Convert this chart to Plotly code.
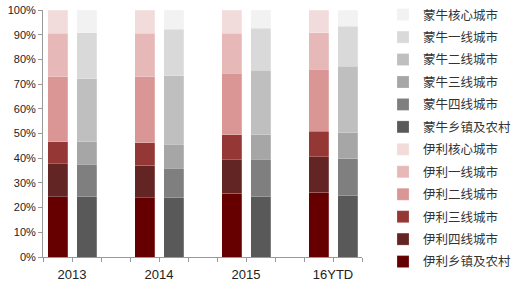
import plotly.graph_objects as go

# categories
years = ["2013", "2014", "2015", "16YTD"]
tiers = ["乡镇及农村", "四线城市", "三线城市", "二线城市", "一线城市", "核心城市"]

# share (%) per tier, bottom -> top, per year
yili = {
    "乡镇及农村": [24.4, 24.0, 25.8, 26.2],
    "四线城市":   [13.3, 13.1, 13.5, 14.4],
    "三线城市":   [9.0, 9.2, 10.1, 10.4],
    "二线城市":   [26.3, 26.7, 25.0, 25.0],
    "一线城市":   [17.6, 17.6, 16.2, 14.8],
    "核心城市":   [9.4, 9.4, 9.4, 9.2],
}
mengniu = {
    "乡镇及农村": [24.3, 23.9, 24.4, 24.7],
    "四线城市":   [13.2, 12.0, 15.1, 15.1],
    "三线城市":   [9.2, 9.8, 9.9, 10.5],
    "二线城市":   [25.5, 27.6, 26.2, 27.0],
    "一线城市":   [18.6, 18.9, 17.1, 16.2],
    "核心城市":   [9.2, 7.8, 7.3, 6.5],
}

yili_colors = ["#660000", "#632523", "#953735", "#D99694", "#E6B9B8", "#F2DCDB"]
mn_colors = ["#595959", "#7F7F7F", "#A6A6A6", "#BFBFBF", "#D9D9D9", "#F2F2F2"]

# x slots: each year occupies 3 slots (伊利, 蒙牛, gap)
yili_x = [3 * i for i in range(len(years))]
mn_x = [3 * i + 1 for i in range(len(years))]
label_x = [3 * i + 0.5 for i in range(len(years))]

n = len(tiers)
fig = go.Figure()
for k, (t, c) in enumerate(zip(tiers, yili_colors)):
    fig.add_trace(go.Bar(x=yili_x, y=yili[t], name="伊利" + t, marker_color=c,
                         marker_line=dict(color="rgba(255,255,255,0.35)", width=0.6),
                         width=0.69, legendgroup="伊利" + t,
                         legendrank=2 * n - k))
for k, (t, c) in enumerate(zip(tiers, mn_colors)):
    fig.add_trace(go.Bar(x=mn_x, y=mengniu[t], name="蒙牛" + t, marker_color=c,
                         marker_line=dict(color="rgba(255,255,255,0.35)", width=0.6),
                         width=0.69, legendgroup="蒙牛" + t,
                         legendrank=n - k))

fig.update_layout(
    barmode="stack",
    width=519, height=283,
    margin=dict(l=43, r=157, t=10, b=26, autoexpand=False),
    paper_bgcolor="white", plot_bgcolor="white",
    font=dict(family="Liberation Sans, Arial, sans-serif", color="#222"),
    showlegend=True,
    legend=dict(
        traceorder="grouped",
        tracegroupgap=3.2,
        xref="container", yref="container",
        x=0.738, xanchor="left", y=1, yanchor="top",
        maxheight=400,
        font=dict(family="Noto Sans CJK SC", size=12.5, color="#333"),
        bgcolor="rgba(0,0,0,0)",
        itemclick=False,
    ),
    xaxis=dict(
        range=[-0.5, 10.5], automargin=False,
        tickmode="array", tickvals=label_x, ticktext=years,
        ticks="outside", ticklen=4, tickcolor="#999",
        showline=True, linecolor="#999", linewidth=1,
        showgrid=False, zeroline=False,
        ticklabelstandoff=1,
        tickfont=dict(size=13, color="#222"),
        minor=dict(tickmode="linear", tick0=-0.5, dtick=1, ticks="outside",
                   ticklen=4, tickcolor="#999", showgrid=False),
    ),
    yaxis=dict(
        range=[0, 100], dtick=10, ticksuffix="%", automargin=False,
        ticks="outside", ticklen=4, tickcolor="#999",
        showline=True, linecolor="#999", linewidth=1,
        showgrid=False, zeroline=False,
        tickfont=dict(size=11, color="#222"),
    ),
)

fig.write_html("out.html")
